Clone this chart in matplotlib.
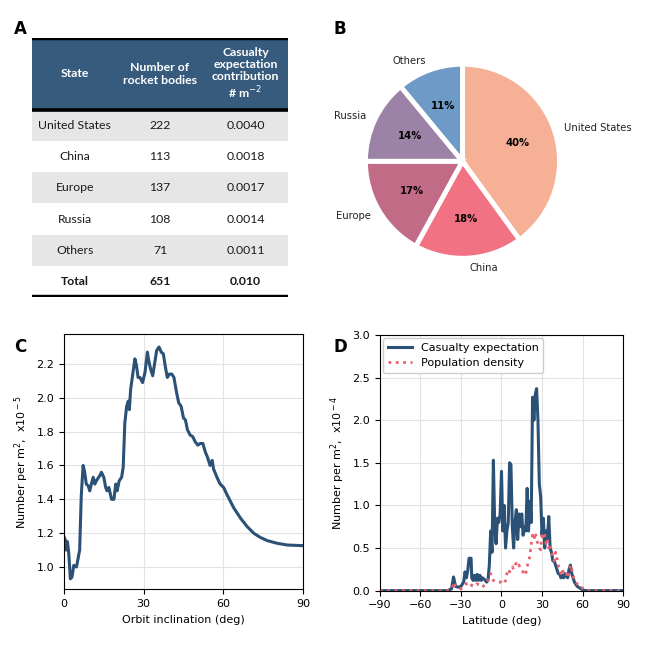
import numpy as np
import matplotlib
matplotlib.use('Agg')
import matplotlib.pyplot as plt

# ---- panel A / B data ----
states = ['United States', 'China', 'Europe', 'Russia', 'Others']
rocket_bodies = [222, 113, 137, 108, 71]
casualty_contrib = ['0.0040', '0.0018', '0.0017', '0.0014', '0.0011']
total_bodies = 651
total_contrib = '0.010'
pie_values = [0.0040, 0.0018, 0.0017, 0.0014, 0.0011]
pie_colors = ['#f5b095', '#f07283', '#c26b86', '#9c82a6', '#6d9ac6']

# ---- panel C data (orbit inclination, x1e-5) ----
incl = [0, 0.5, 0.9, 1.3, 1.8, 2.4, 3.0, 3.7, 4.7, 5.3, 5.9, 6.5, 7.2, 7.8,
        8.4, 9.1, 9.7, 10.3, 11.0, 11.6, 12.2, 13.5, 14.1, 15.0, 15.7, 16.2,
        16.9, 17.9, 18.8, 19.5, 20.0, 20.8, 21.7, 22.3, 22.9, 23.6, 24.2,
        24.6, 25.1, 25.8, 26.7, 27.3, 27.9, 28.6, 29.6, 30.5, 31.4, 31.9,
        32.6, 33.4, 34.1, 34.9, 35.8, 36.6, 37.4, 38.2, 38.9, 39.7, 40.6,
        41.4, 42.4, 43.2, 44.1, 45.0, 45.7, 46.5, 47.5, 48.5, 49.4, 50.4,
        51.3, 52.3, 53.2, 54.0, 55.0, 55.8, 56.3, 57.6, 58.8, 60.1, 61.3,
        63.9, 66.4, 68.9, 71.4, 73.9, 76.5, 80.3, 84.0, 90.0]
incl_casualty = [1.18, 1.16, 1.10, 1.15, 1.08, 0.93, 0.94, 1.01, 1.00, 1.05,
                 1.10, 1.42, 1.60, 1.56, 1.49, 1.48, 1.45, 1.49, 1.53, 1.49,
                 1.51, 1.54, 1.56, 1.53, 1.47, 1.45, 1.47, 1.40, 1.40, 1.49,
                 1.45, 1.51, 1.53, 1.59, 1.85, 1.95, 1.98, 1.93, 2.05, 2.13,
                 2.23, 2.19, 2.12, 2.12, 2.09, 2.15, 2.27, 2.22, 2.17, 2.13,
                 2.20, 2.28, 2.30, 2.27, 2.26, 2.18, 2.12, 2.14, 2.14, 2.12,
                 2.03, 1.97, 1.95, 1.88, 1.87, 1.81, 1.78, 1.77, 1.74, 1.72,
                 1.73, 1.73, 1.68, 1.65, 1.60, 1.63, 1.58, 1.53, 1.49, 1.47,
                 1.43, 1.35, 1.29, 1.24, 1.20, 1.175, 1.156, 1.14, 1.13, 1.126]

# ---- panel D data (latitude, x1e-4) ----
lat = [-90, -40, -37, -35.5, -34, -32, -30, -28, -27, -26, -25, -24, -22.5,
       -22, -21, -20, -19, -18, -17, -16, -15, -14, -12, -11, -10, -9, -8,
       -7, -6, -5, -4, -3, -2, -1, 0, 1, 2, 3, 4, 5, 6, 7, 8, 9, 10, 11, 12,
       13, 14, 15, 16, 17, 18, 19, 20, 21, 22, 23, 24, 25, 26, 27, 28, 29,
       30, 31, 32, 33, 34, 35, 36, 37, 38, 39, 40, 41, 42, 43, 44, 45, 46,
       47, 48, 49, 50, 51, 52, 53, 54, 56, 58, 60, 62, 90]
lat_casualty = [0, 0, 0.02, 0.16, 0.05, 0.04, 0.05, 0.10, 0.22, 0.15, 0.23,
                0.38, 0.38, 0.15, 0.12, 0.18, 0.12, 0.19, 0.12, 0.18, 0.12,
                0.15, 0.12, 0.10, 0.12, 0.30, 0.70, 0.45, 1.53, 0.75, 0.55,
                0.85, 0.80, 0.90, 1.40, 0.70, 1.00, 0.50, 0.70, 0.80, 1.50,
                1.48, 0.75, 0.50, 0.80, 0.95, 0.60, 0.90, 0.75, 0.90, 0.65,
                0.75, 0.70, 1.20, 0.70, 1.05, 0.80, 2.27, 2.00, 2.30, 2.37,
                2.00, 1.25, 1.10, 0.65, 0.85, 0.50, 0.70, 0.60, 0.87, 0.50,
                0.45, 0.35, 0.35, 0.30, 0.25, 0.20, 0.20, 0.15, 0.18, 0.15,
                0.20, 0.17, 0.15, 0.25, 0.30, 0.20, 0.15, 0.10, 0.05, 0.03,
                0.01, 0, 0]
pop_lat = [-90, -40, -38, -36, -35, -34, -32, -30, -28, -26, -24, -22, -20,
           -18, -16, -14, -12, -10, -9, -8, -7, -6, -4, -2, 0, 2, 3, 4, 5, 6,
           8, 9, 10, 11, 12, 13, 14, 16, 17, 18, 19, 20, 21, 22, 23, 24, 25,
           26, 27, 28, 29, 30, 31, 32, 33, 34, 35, 36, 37, 38, 39, 40, 41, 42,
           43, 44, 45, 46, 47, 48, 49, 50, 51, 52, 53, 54, 55, 56, 57, 58, 59,
           60, 61, 63, 90]
pop_density = [0, 0, 0.01, 0.05, 0.10, 0.05, 0.03, 0.02, 0.05, 0.08, 0.10,
               0.06, 0.05, 0.08, 0.06, 0.04, 0.08, 0.12, 0.18, 0.20, 0.15,
               0.12, 0.10, 0.10, 0.10, 0.08, 0.12, 0.20, 0.25, 0.22, 0.28,
               0.25, 0.30, 0.32, 0.28, 0.30, 0.25, 0.22, 0.18, 0.20, 0.28,
               0.35, 0.40, 0.55, 0.65, 0.60, 0.68, 0.60, 0.55, 0.50, 0.48,
               0.68, 0.60, 0.65, 0.55, 0.60, 0.50, 0.55, 0.45, 0.40, 0.35,
               0.45, 0.38, 0.30, 0.25, 0.20, 0.25, 0.20, 0.22, 0.20, 0.15,
               0.20, 0.30, 0.25, 0.18, 0.12, 0.10, 0.08, 0.05, 0.05, 0.04,
               0.03, 0.02, 0, 0]

LINE = '#2b5176'
RED = '#e8606e'
HEADER = '#365b7d'
STRIPE = '#e6e6e6'

fig = plt.figure(figsize=(6.45, 6.45), dpi=100)

# ---------------- A: table ----------------
axA = fig.add_axes([0.0496, 0.5395, 0.397, 0.4015])
axA.set_axis_off()
header = ['State', 'Number of\nrocket bodies',
          'Casualty\nexpectation\ncontribution\n# m$^{-2}$']
rows = [[s, str(n), c] for s, n, c in zip(states, rocket_bodies, casualty_contrib)]
rows.append(['Total', str(total_bodies), total_contrib])
tab = axA.table(cellText=rows, colLabels=header, cellLoc='center',
                bbox=[0, 0, 1, 1])
tab.auto_set_font_size(False)
for (r, c), cell in tab.get_celld().items():
    cell.set_edgecolor('none')
    cell.set_linewidth(0)
    txt = cell.get_text()
    txt.set_fontfamily('Lato')
    txt.set_fontsize(8.8)
    if r == 0:
        cell.set_height(cell.get_height() * 2.3)
        cell.set_facecolor(HEADER)
        txt.set_color('white')
        txt.set_fontweight('bold')
        txt.set_linespacing(1.15)
    else:
        cell.set_facecolor(STRIPE if r % 2 == 1 else 'white')
        txt.set_color('#1a1a1a')
        if r == len(rows):
            txt.set_fontweight('bold')
axA.axhline(1.0, color='black', lw=3.2)
axA.axhline(6 / 8.3, color='black', lw=2.6)
axA.axhline(0.0, color='black', lw=3.2)
axA.set_xlim(0, 1)
axA.set_ylim(0, 1)
fig.text(0.022, 0.955, 'A', fontsize=12, fontweight='bold', va='center')

# ---------------- B: pie ----------------
axB = fig.add_axes([0.529, 0.562, 0.376, 0.376])
wedges, texts, autotexts = axB.pie(
    pie_values, labels=states, colors=pie_colors, startangle=90,
    counterclock=False, autopct='%1.0f%%', pctdistance=0.6,
    labeldistance=1.1,
    wedgeprops=dict(edgecolor='white', linewidth=3.5),
    textprops=dict(fontsize=7.2, color='#222222'))
for t in autotexts:
    t.set_fontweight('bold')
    t.set_color('black')
axB.set_aspect('equal')
fig.text(0.517, 0.955, 'B', fontsize=12, fontweight='bold', va='center')

# ---------------- C: inclination ----------------
axC = fig.add_axes([0.0992, 0.0863, 0.3706, 0.3959])
axC.plot(incl, incl_casualty, color=LINE, lw=2.2)
axC.set_xlim(0, 90)
axC.set_ylim(0.868, 2.377)
axC.set_xticks([0, 30, 60, 90])
axC.set_yticks([1.0, 1.2, 1.4, 1.6, 1.8, 2.0, 2.2])
axC.grid(True, color='#e3e3e3', lw=0.8)
axC.set_axisbelow(True)
axC.set_xlabel('Orbit inclination (deg)', fontsize=8)
axC.set_ylabel('Number per m$^2$,  x10$^-$$^5$', fontsize=8)
axC.tick_params(labelsize=8)
fig.text(0.022, 0.462, 'C', fontsize=12, fontweight='bold', va='center')

# ---------------- D: latitude ----------------
axD = fig.add_axes([0.589, 0.0843, 0.377, 0.3963])
axD.plot(lat, lat_casualty, color=LINE, lw=2.2, label='Casualty expectation')
axD.plot(pop_lat, pop_density, color=RED, lw=2, ls=':',
         label='Population density')
axD.set_xlim(-90, 90)
axD.set_ylim(0, 3.0)
axD.set_xticks([-90, -60, -30, 0, 30, 60, 90])
axD.set_yticks([0, 0.5, 1.0, 1.5, 2.0, 2.5, 3.0])
axD.grid(True, color='#e3e3e3', lw=0.8)
axD.set_axisbelow(True)
axD.set_xlabel('Latitude (deg)', fontsize=8)
axD.set_ylabel('Number per m$^2$,  x10$^-$$^4$', fontsize=8)
axD.tick_params(labelsize=8)
axD.legend(loc='upper left', fontsize=8, borderaxespad=0.3,
           handlelength=2.2, framealpha=1)
fig.text(0.517, 0.462, 'D', fontsize=12, fontweight='bold', va='center')

fig.savefig('out.png', dpi=100)
